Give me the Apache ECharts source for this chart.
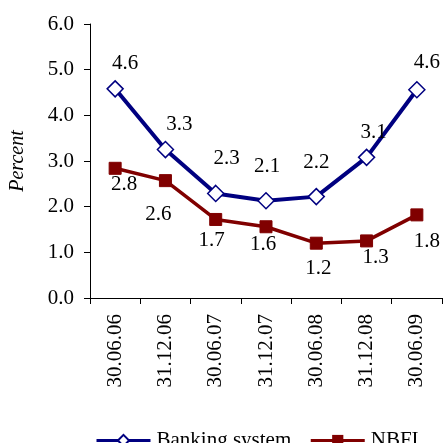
<!DOCTYPE html>
<html>
<head>
<meta charset="utf-8">
<title>Banking system vs NBFI</title>
<script src="https://cdn.jsdelivr.net/npm/echarts@6/dist/echarts.min.js"></script>
<style>
  html, body { margin: 0; padding: 0; background: #fff; }
  #main { width: 447px; height: 443px; }
</style>
</head>
<body>
<div id="main"></div>
<script>
var dates = ['30.06.06', '31.12.06', '30.06.07', '31.12.07', '30.06.08', '31.12.08', '30.06.09'];
var banking = [4.58, 3.25, 2.29, 2.13, 2.22, 3.08, 4.56];
var nbfi = [2.84, 2.57, 1.72, 1.56, 1.2, 1.25, 1.82];
var yTicks = [0, 1, 2, 3, 4, 5, 6];

// label offsets (px) for each point
var bankOff = [[10, -25], [14, -25], [11, -35], [1, -34], [0, -34], [7, -25], [10, -27]];
var nbfiOff = [[9, 16], [-7, 34], [-4, 21], [-3, 18], [2, 25], [9, 17], [10, 27]];

var font = 'Liberation Serif';

function withLabels(vals, offs) {
  return vals.map(function (v, i) {
    return { value: v, label: { offset: offs[i] } };
  });
}

var myChart = echarts.init(document.getElementById('main'));
var option = {
  animation: false,
  textStyle: { fontFamily: font },
  grid: { left: 89, top: 24, right: 5, bottom: 145 },
  legend: {
    top: 425,
    left: 90,
    itemWidth: 54,
    itemHeight: 14,
    itemGap: 18,
    lineStyle: { width: 3 },
    textStyle: { fontFamily: font, fontSize: 21, color: '#000', padding: [0, 0, 0, 1] },
    data: ['Banking system', 'NBFI']
  },
  xAxis: {
    type: 'category',
    data: dates,
    boundaryGap: true,
    axisLine: { lineStyle: { color: '#000', width: 1 } },
    axisTick: { show: true, length: 6, lineStyle: { color: '#000' } },
    axisLabel: { rotate: 90, margin: 16, fontFamily: font, fontSize: 21, color: '#000' },
    splitLine: { show: false }
  },
  yAxis: {
    type: 'value',
    min: yTicks[0],
    max: yTicks[yTicks.length - 1],
    interval: 1,
    name: 'Percent',
    nameLocation: 'middle',
    nameGap: 62,
    nameTextStyle: { fontFamily: font, fontSize: 20, fontStyle: 'italic', color: '#000' },
    axisLine: { show: true, lineStyle: { color: '#000', width: 1 } },
    axisTick: { show: true, length: 6, lineStyle: { color: '#000' } },
    axisLabel: {
      margin: 16, fontFamily: font, fontSize: 21, color: '#000',
      formatter: function (v) { return v.toFixed(1); }
    },
    splitLine: { show: false }
  },
  series: [
    {
      name: 'Banking system',
      type: 'line',
      data: withLabels(banking, bankOff),
      symbol: 'diamond',
      symbolSize: 16,
      lineStyle: { color: '#000080', width: 4 },
      itemStyle: { color: '#fff', borderColor: '#000080', borderWidth: 1.5 },
      label: {
        show: true, position: 'inside', fontFamily: font, fontSize: 21, color: '#000',
        formatter: function (p) { return p.value.toFixed(1); }
      },
      z: 3
    },
    {
      name: 'NBFI',
      type: 'line',
      data: withLabels(nbfi, nbfiOff),
      symbol: 'rect',
      symbolSize: 12,
      lineStyle: { color: '#800000', width: 3.5 },
      itemStyle: { color: '#800000', borderColor: '#800000' },
      label: {
        show: true, position: 'inside', fontFamily: font, fontSize: 21, color: '#000',
        formatter: function (p) { return p.value.toFixed(1); }
      },
      z: 2
    }
  ]
};
myChart.setOption(option);
</script>
</body>
</html>
